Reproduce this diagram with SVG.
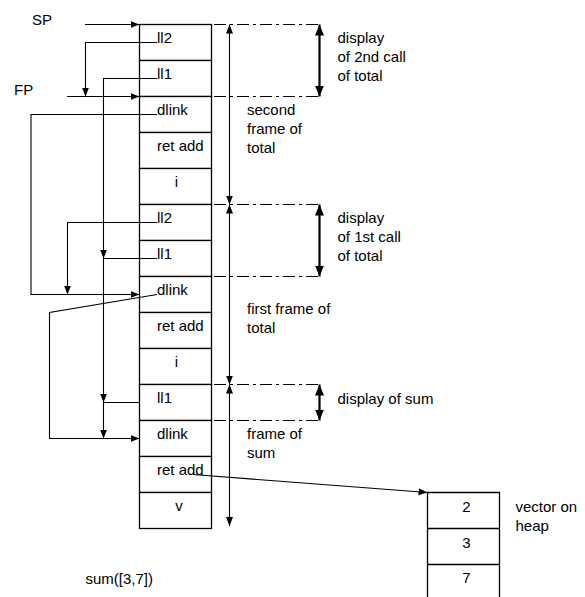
<svg xmlns="http://www.w3.org/2000/svg" width="585" height="597" viewBox="0 0 585 597">
<defs>
<marker id="ah" markerUnits="userSpaceOnUse" markerWidth="10" markerHeight="8" refX="9" refY="3.5" orient="auto-start-reverse"><path d="M0,0 L9,3.5 L0,7 z" fill="#000"/></marker>
<marker id="bh" markerUnits="userSpaceOnUse" markerWidth="12" markerHeight="10" refX="11" refY="4.5" orient="auto-start-reverse"><path d="M0,0 L11,4.5 L0,9 z" fill="#000"/></marker>
<style>
text{font-family:"Liberation Sans",Arial,sans-serif;font-size:15px;fill:#000}
.cell{fill:#fff;stroke:#000;stroke-width:1.3}
.c{fill:none;stroke:#000;stroke-width:1.1}
.dd{fill:none;stroke:#000;stroke-width:1.1;stroke-dasharray:12,4,3,4}
.fr{fill:none;stroke:#000;stroke-width:1.1}
.disp{fill:none;stroke:#000;stroke-width:2.2}
.m{text-anchor:middle}
</style>
</defs>
<rect width="585" height="597" fill="#fff"/>
<g id="stack">
<rect class="cell" x="139.5" y="24.5" width="72" height="36"/>
<rect class="cell" x="139.5" y="60.5" width="72" height="36"/>
<rect class="cell" x="139.5" y="96.5" width="72" height="36"/>
<rect class="cell" x="139.5" y="132.5" width="72" height="36"/>
<rect class="cell" x="139.5" y="168.5" width="72" height="36"/>
<rect class="cell" x="139.5" y="204.5" width="72" height="36"/>
<rect class="cell" x="139.5" y="240.5" width="72" height="36"/>
<rect class="cell" x="139.5" y="276.5" width="72" height="36"/>
<rect class="cell" x="139.5" y="312.5" width="72" height="36"/>
<rect class="cell" x="139.5" y="348.5" width="72" height="36"/>
<rect class="cell" x="139.5" y="384.5" width="72" height="36"/>
<rect class="cell" x="139.5" y="420.5" width="72" height="36"/>
<rect class="cell" x="139.5" y="456.5" width="72" height="36"/>
<rect class="cell" x="139.5" y="492.5" width="72" height="36"/>
<text x="157" y="43">ll2</text>
<text x="157" y="79">ll1</text>
<text x="157" y="115">dlink</text>
<text x="157" y="151">ret add</text>
<text class="m" x="176.5" y="187">i</text>
<text x="157" y="223">ll2</text>
<text x="157" y="259">ll1</text>
<text x="157" y="295">dlink</text>
<text x="157" y="331">ret add</text>
<text class="m" x="176.5" y="367">i</text>
<text x="157" y="403">ll1</text>
<text x="157" y="439">dlink</text>
<text x="157" y="475">ret add</text>
<text class="m" x="179" y="511">v</text>
</g>
<g id="heap">
<path class="c" d="M427.5,597 V492.5 H499.5 V597 M427.5,528.5 H499.5 M427.5,564.5 H499.5" style="stroke-width:1.3"/>
<text class="m" x="466.5" y="512">2</text>
<text class="m" x="466.5" y="548">3</text>
<text class="m" x="466.5" y="583">7</text>
</g>
<g id="labels">
<text x="32" y="25">SP</text>
<text x="14" y="95">FP</text>
<text x="337.5" y="43">display</text>
<text x="337.5" y="62">of 2nd call</text>
<text x="337.5" y="81">of total</text>
<text x="247" y="115">second</text>
<text x="247" y="134">frame of</text>
<text x="247" y="153">total</text>
<text x="337.5" y="223">display</text>
<text x="337.5" y="242">of 1st call</text>
<text x="337.5" y="261">of total</text>
<text x="247" y="314">first frame of</text>
<text x="247" y="333">total</text>
<text x="337.5" y="404">display of sum</text>
<text x="247" y="439">frame of</text>
<text x="247" y="458">sum</text>
<text x="515.5" y="512">vector on</text>
<text x="515.5" y="531">heap</text>
<text x="85.5" y="584">sum([3,7])</text>
</g>
<g id="connectors">
<line class="c" x1="85" y1="24.5" x2="139.5" y2="24.5" marker-end="url(#ah)"/>
<line class="c" x1="67" y1="96.5" x2="139.5" y2="96.5" marker-end="url(#ah)"/>
<polyline class="c" points="157,42.5 85.5,42.5 85.5,96.5" marker-end="url(#ah)"/>
<polyline class="c" points="157,78.5 103.5,78.5 103.5,258.5" marker-end="url(#ah)"/>
<polyline class="c" points="157,114.5 31,114.5 31,294.5 139.5,294.5" marker-end="url(#ah)"/>
<polyline class="c" points="157,222.5 67.5,222.5 67.5,294.5" marker-end="url(#ah)"/>
<polyline class="c" points="157,258.5 103.5,258.5 103.5,402.5" marker-end="url(#ah)"/>
<polyline class="c" points="157,294.5 49.5,312.5 49.5,438.5 139.5,438.5" marker-end="url(#ah)"/>
<polyline class="c" points="139.5,402.5 103.5,402.5 103.5,438.5" marker-end="url(#ah)"/>
<line class="c" x1="193" y1="474.5" x2="427.5" y2="492.5" marker-end="url(#ah)"/>
<path class="dd" d="M214,24.5 H319.5 M214,96.5 H319.5 M214,204.5 H319.5 M214,276.5 H319.5 M214,384.5 H319.5 M214,420.5 H319.5"/>
<line class="fr" x1="229.5" y1="24.5" x2="229.5" y2="204.5" marker-start="url(#ah)" marker-end="url(#ah)"/>
<line class="fr" x1="229.5" y1="204.5" x2="229.5" y2="384.5" marker-start="url(#ah)" marker-end="url(#ah)"/>
<line class="fr" x1="229.5" y1="384.5" x2="229.5" y2="526" marker-start="url(#ah)" marker-end="url(#ah)"/>
<line class="disp" x1="319.5" y1="24.5" x2="319.5" y2="96.5" marker-start="url(#bh)" marker-end="url(#bh)"/>
<line class="disp" x1="319.5" y1="204.5" x2="319.5" y2="276.5" marker-start="url(#bh)" marker-end="url(#bh)"/>
<line class="disp" x1="319.5" y1="384.5" x2="319.5" y2="420.5" marker-start="url(#bh)" marker-end="url(#bh)"/>
</g>
</svg>
